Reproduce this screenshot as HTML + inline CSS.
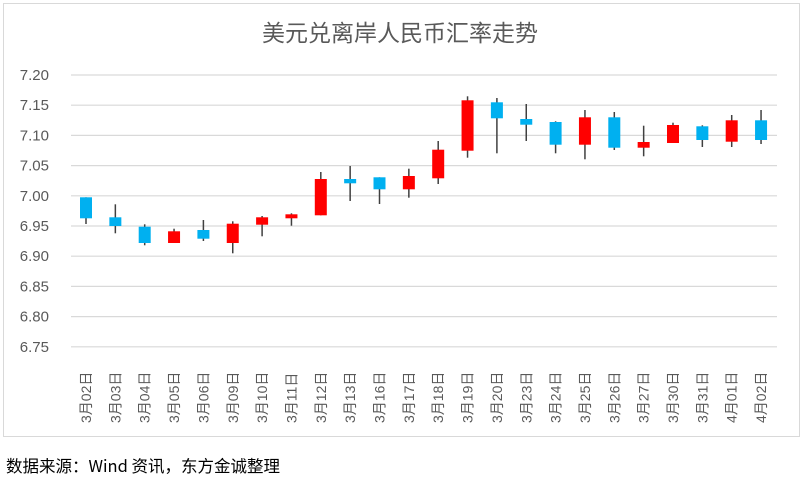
<!DOCTYPE html>
<html><head><meta charset="utf-8"><style>
body{margin:0;background:#fff;}
svg{display:block;}
</style></head><body>
<svg width="804" height="479" viewBox="0 0 804 479" xmlns="http://www.w3.org/2000/svg" font-family="Liberation Sans, Noto Sans CJK SC, sans-serif">
<rect x="3.5" y="3.5" width="796" height="433" fill="#fff" stroke="#d9d9d9" stroke-width="1"/>
<text x="400" y="41" text-anchor="middle" font-size="23" fill="#595959" font-family="Noto Sans CJK SC, sans-serif">美元兑离岸人民币汇率走势</text>
<g stroke="#d9d9d9" stroke-width="1.2">
<line x1="71" x2="777" y1="75" y2="75"/><line x1="71" x2="777" y1="105.2" y2="105.2"/><line x1="71" x2="777" y1="135.4" y2="135.4"/><line x1="71" x2="777" y1="165.6" y2="165.6"/><line x1="71" x2="777" y1="195.8" y2="195.8"/><line x1="71" x2="777" y1="226" y2="226"/><line x1="71" x2="777" y1="256.2" y2="256.2"/><line x1="71" x2="777" y1="286.4" y2="286.4"/><line x1="71" x2="777" y1="316.6" y2="316.6"/><line x1="71" x2="777" y1="346.8" y2="346.8"/>
</g>
<g font-size="15" fill="#595959" text-anchor="end">
<text x="49" y="80">7.20</text><text x="49" y="110.2">7.15</text><text x="49" y="140.4">7.10</text><text x="49" y="170.6">7.05</text><text x="49" y="200.8">7.00</text><text x="49" y="231">6.95</text><text x="49" y="261.2">6.90</text><text x="49" y="291.4">6.85</text><text x="49" y="321.6">6.80</text><text x="49" y="351.8">6.75</text>
</g>
<g stroke="#404040" stroke-width="1.5">
<line x1="86" x2="86" y1="197.3" y2="224"/>
<line x1="115.35" x2="115.35" y1="204.3" y2="233.3"/>
<line x1="144.7" x2="144.7" y1="224.3" y2="245.3"/>
<line x1="174.05" x2="174.05" y1="228.7" y2="243"/>
<line x1="203.4" x2="203.4" y1="220" y2="241"/>
<line x1="232.75" x2="232.75" y1="221.3" y2="253.3"/>
<line x1="262.1" x2="262.1" y1="216" y2="236.3"/>
<line x1="291.45" x2="291.45" y1="213.3" y2="225.7"/>
<line x1="320.8" x2="320.8" y1="172" y2="215.3"/>
<line x1="350.15" x2="350.15" y1="166" y2="201"/>
<line x1="379.5" x2="379.5" y1="177.3" y2="204"/>
<line x1="408.85" x2="408.85" y1="168.7" y2="197.7"/>
<line x1="438.2" x2="438.2" y1="141" y2="184"/>
<line x1="467.55" x2="467.55" y1="96.3" y2="157.7"/>
<line x1="496.9" x2="496.9" y1="98" y2="153.3"/>
<line x1="526.25" x2="526.25" y1="104" y2="141"/>
<line x1="555.6" x2="555.6" y1="121.3" y2="153.3"/>
<line x1="584.95" x2="584.95" y1="110" y2="159.3"/>
<line x1="614.3" x2="614.3" y1="112" y2="150"/>
<line x1="643.65" x2="643.65" y1="125.7" y2="156.3"/>
<line x1="673" x2="673" y1="122.7" y2="143"/>
<line x1="702.35" x2="702.35" y1="125.3" y2="147"/>
<line x1="731.7" x2="731.7" y1="115" y2="147"/>
<line x1="761.05" x2="761.05" y1="110" y2="144"/>
</g>
<g>
<rect x="80" y="197.3" width="12" height="21" fill="#00B0F0"/>
<rect x="109.35" y="217.3" width="12" height="8.7" fill="#00B0F0"/>
<rect x="138.7" y="226.7" width="12" height="16.3" fill="#00B0F0"/>
<rect x="168.05" y="231.3" width="12" height="11.7" fill="#FF0000"/>
<rect x="197.4" y="230" width="12" height="8.7" fill="#00B0F0"/>
<rect x="226.75" y="223.7" width="12" height="19.3" fill="#FF0000"/>
<rect x="256.1" y="217.3" width="12" height="7.4" fill="#FF0000"/>
<rect x="285.45" y="214.3" width="12" height="4" fill="#FF0000"/>
<rect x="314.8" y="179" width="12" height="36.3" fill="#FF0000"/>
<rect x="344.15" y="179" width="12" height="4.3" fill="#00B0F0"/>
<rect x="373.5" y="177.3" width="12" height="12" fill="#00B0F0"/>
<rect x="402.85" y="176" width="12" height="13.3" fill="#FF0000"/>
<rect x="432.2" y="149.7" width="12" height="28.6" fill="#FF0000"/>
<rect x="461.55" y="100.3" width="12" height="50.4" fill="#FF0000"/>
<rect x="490.9" y="102.3" width="12" height="16" fill="#00B0F0"/>
<rect x="520.25" y="119" width="12" height="5.7" fill="#00B0F0"/>
<rect x="549.6" y="122" width="12" height="22.7" fill="#00B0F0"/>
<rect x="578.95" y="117.3" width="12" height="27.4" fill="#FF0000"/>
<rect x="608.3" y="117.3" width="12" height="30.4" fill="#00B0F0"/>
<rect x="637.65" y="142" width="12" height="5.7" fill="#FF0000"/>
<rect x="667" y="125" width="12" height="18" fill="#FF0000"/>
<rect x="696.35" y="126.3" width="12" height="13.7" fill="#00B0F0"/>
<rect x="725.7" y="120.3" width="12" height="21.4" fill="#FF0000"/>
<rect x="755.05" y="120.3" width="12" height="19.7" fill="#00B0F0"/>
</g>
<g font-size="14" fill="#595959">
<text transform="translate(91,423) rotate(-90)">3月02日</text>
<text transform="translate(120.35,423) rotate(-90)">3月03日</text>
<text transform="translate(149.7,423) rotate(-90)">3月04日</text>
<text transform="translate(179.05,423) rotate(-90)">3月05日</text>
<text transform="translate(208.4,423) rotate(-90)">3月06日</text>
<text transform="translate(237.75,423) rotate(-90)">3月09日</text>
<text transform="translate(267.1,423) rotate(-90)">3月10日</text>
<text transform="translate(296.45,423) rotate(-90)">3月11日</text>
<text transform="translate(325.8,423) rotate(-90)">3月12日</text>
<text transform="translate(355.15,423) rotate(-90)">3月13日</text>
<text transform="translate(384.5,423) rotate(-90)">3月16日</text>
<text transform="translate(413.85,423) rotate(-90)">3月17日</text>
<text transform="translate(443.2,423) rotate(-90)">3月18日</text>
<text transform="translate(472.55,423) rotate(-90)">3月19日</text>
<text transform="translate(501.9,423) rotate(-90)">3月20日</text>
<text transform="translate(531.25,423) rotate(-90)">3月23日</text>
<text transform="translate(560.6,423) rotate(-90)">3月24日</text>
<text transform="translate(589.95,423) rotate(-90)">3月25日</text>
<text transform="translate(619.3,423) rotate(-90)">3月26日</text>
<text transform="translate(648.65,423) rotate(-90)">3月27日</text>
<text transform="translate(678,423) rotate(-90)">3月30日</text>
<text transform="translate(707.35,423) rotate(-90)">3月31日</text>
<text transform="translate(736.7,423) rotate(-90)">4月01日</text>
<text transform="translate(766.05,423) rotate(-90)">4月02日</text>
</g>
<text x="6" y="472" font-size="16.5" fill="#000" font-family="Noto Sans CJK SC, sans-serif">数据来源：Wind 资讯，东方金诚整理</text>
</svg>
</body></html>
